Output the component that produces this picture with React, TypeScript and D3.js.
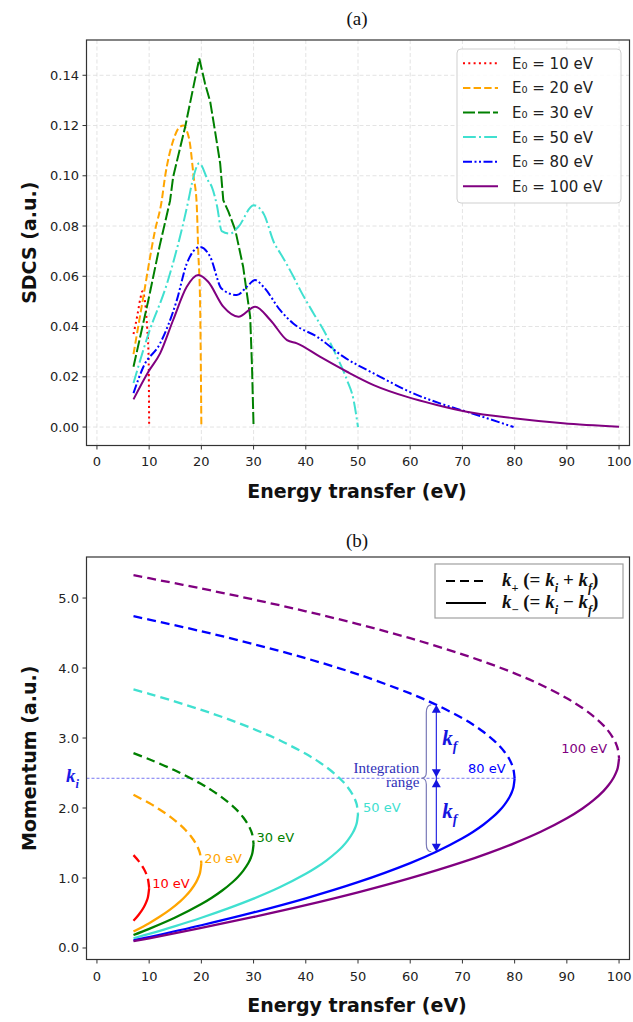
import React from "react";
import * as d3 from "d3";

// ---------- Panel (a) data: SDCS vs energy transfer ----------
const xTicks = [0, 10, 20, 30, 40, 50, 60, 70, 80, 90, 100];
const sdcsTicks = [0, 0.02, 0.04, 0.06, 0.08, 0.1, 0.12, 0.14];
const momTicks = [0, 1, 2, 3, 4, 5];

const e10W = [7, 7.7, 8.3, 8.7, 9.2, 9.6, 9.9, 10];
const e10S = [0.037, 0.044, 0.051, 0.054, 0.05, 0.04, 0.027, 0.0];

const e20W = [7, 8.9, 11.1, 12.4, 13.0, 14.6, 15.9, 16.6, 17.2, 17.8, 18.5, 19.1, 19.4, 19.75, 20];
const e20S = [0.029, 0.052, 0.078, 0.09, 0.099, 0.114, 0.1195, 0.12, 0.118, 0.113, 0.1, 0.089, 0.07, 0.05, 0.0];

const e30W = [7, 9.85, 12, 14.0, 14.6, 16.9, 19.6, 20.7, 21.7, 22.6, 23.6, 24.2, 25.2, 26.5, 28.0, 29.35, 29.7, 30];
const e30S = [0.024, 0.0505, 0.072, 0.09, 0.0996, 0.1195, 0.1467, 0.1367, 0.1294, 0.118, 0.1049, 0.0903, 0.0856, 0.0784, 0.0638, 0.0439, 0.024, 0.0];

const e50W = [7, 9.85, 13.4, 17.5, 18.2, 19.6, 21.3, 22.0, 23.0, 23.9, 25.5, 27.1, 30.0, 31.9, 34.0, 35.15, 37.65, 38.94, 41.49, 43.4, 45.65, 47.89, 49.16, 50];
const e50S = [0.0175, 0.037, 0.057, 0.09, 0.097, 0.105, 0.098, 0.0956, 0.088, 0.078, 0.077, 0.0797, 0.0883, 0.085, 0.073, 0.0691, 0.0598, 0.0545, 0.0452, 0.0386, 0.0293, 0.0187, 0.0107, 0.0];

const e80W = [7, 8.9, 12.1, 15.3, 17.2, 19.75, 21.7, 23.9, 26.8, 28.7, 30.3, 31.9, 35.1, 37.6, 42.1, 47.2, 53.6, 60.6, 65.7, 70.8, 74.7, 79.8];
const e80S = [0.0135, 0.024, 0.0333, 0.0505, 0.065, 0.0717, 0.0677, 0.055, 0.0525, 0.0558, 0.0585, 0.0558, 0.0465, 0.0412, 0.036, 0.028, 0.0207, 0.0134, 0.0094, 0.0061, 0.0035, 0.0];

const e100W = [7, 9.85, 12.1, 14.6, 17.2, 19.4, 21.3, 24.2, 27.1, 30.3, 33.2, 36.4, 38.3, 42.7, 47.9, 53.0, 59.4, 65.1, 70.8, 79.8, 89.3, 100];
const e100S = [0.011, 0.022, 0.0293, 0.0426, 0.0558, 0.0605, 0.0578, 0.0479, 0.0439, 0.0479, 0.0426, 0.0346, 0.0333, 0.028, 0.022, 0.0167, 0.012, 0.0088, 0.0061, 0.0035, 0.0015, 0.0001];

const legendLabelsA = ["E₀ = 10 eV", "E₀ = 20 eV", "E₀ = 30 eV", "E₀ = 50 eV", "E₀ = 80 eV", "E₀ = 100 eV"];

// ---------- Panel (b) data: momentum vs energy transfer ----------
const b10W = [7, 8, 9, 9.5, 9.75, 10];
const b10Plus = [1.327, 1.241, 1.128, 1.049, 0.993, 0.857];
const b10Minus = [0.388, 0.474, 0.586, 0.666, 0.722, 0.857];

const b20W = [7, 10, 12, 14, 16, 17, 18, 19, 19.5, 19.75, 20];
const b20Plus = [2.19, 2.07, 1.979, 1.877, 1.755, 1.682, 1.596, 1.484, 1.404, 1.348, 1.212];
const b20Minus = [0.235, 0.355, 0.446, 0.548, 0.67, 0.743, 0.829, 0.941, 1.021, 1.077, 1.212];

const b30W = [7, 10, 15, 20, 22, 24, 26, 27, 28, 29, 29.5, 29.75, 30];
const b30Plus = [2.785, 2.697, 2.535, 2.342, 2.252, 2.149, 2.027, 1.955, 1.868, 1.756, 1.677, 1.621, 1.485];
const b30Minus = [0.185, 0.273, 0.435, 0.628, 0.718, 0.821, 0.943, 1.015, 1.102, 1.214, 1.293, 1.349, 1.485];

const b50W = [7, 10, 15, 20, 25, 30, 35, 40, 42, 44, 46, 47, 48, 49, 49.5, 49.75, 50];
const b50Plus = [3.695, 3.632, 3.521, 3.402, 3.273, 3.129, 2.967, 2.774, 2.684, 2.581, 2.459, 2.387, 2.3, 2.188, 2.109, 2.053, 1.917];
const b50Minus = [0.139, 0.202, 0.313, 0.432, 0.562, 0.705, 0.867, 1.06, 1.15, 1.253, 1.375, 1.447, 1.534, 1.646, 1.725, 1.781, 1.917];

const b80W = [7, 10, 20, 30, 40, 50, 60, 65, 70, 72, 74, 76, 77, 78, 79, 79.5, 79.75, 80];
const b80Plus = [4.741, 4.693, 4.525, 4.342, 4.14, 3.91, 3.637, 3.475, 3.282, 3.192, 3.089, 2.967, 2.895, 2.808, 2.696, 2.617, 2.561, 2.425];
const b80Minus = [0.109, 0.157, 0.325, 0.508, 0.71, 0.94, 1.213, 1.375, 1.568, 1.658, 1.761, 1.883, 1.955, 2.042, 2.154, 2.233, 2.289, 2.425];

const b100W = [7, 10, 20, 30, 40, 50, 60, 70, 75, 80, 85, 90, 93, 95, 97, 98, 99, 99.5, 99.75, 100];
const b100Plus = [5.326, 5.283, 5.136, 4.979, 4.811, 4.628, 4.426, 4.196, 4.067, 3.924, 3.761, 3.568, 3.428, 3.317, 3.181, 3.095, 2.982, 2.903, 2.847, 2.711];
const b100Minus = [0.097, 0.139, 0.286, 0.443, 0.611, 0.794, 0.997, 1.226, 1.356, 1.499, 1.661, 1.854, 1.994, 2.105, 2.242, 2.328, 2.44, 2.519, 2.576, 2.711];

const curveLabelsB = ["10 eV", "20 eV", "30 eV", "50 eV", "80 eV", "100 eV"];
const arrowW = 65;

// ---------- styles ----------
const colors = ["#ff0000", "#ffa500", "#008000", "#40e0d0", "#0000ff", "#800080"];
const dashesA = ["2,3.3", "7.4,3.2", "12,3", "12.8,3.2,2,3.2", "9,2.5,2,2.5,2,2.5", ""];

const xS = d3.scaleLinear().domain([-2, 102]).range([86.5, 629.5]);
const yA = d3.scaleLinear().domain([-0.00735, 0.15404]).range([445.5, 40]);
const yB = d3.scaleLinear().domain([-0.1644, 5.5864]).range([959.5, 557]);

const seriesA = [
  { w: e10W, s: e10S },
  { w: e20W, s: e20S },
  { w: e30W, s: e30S },
  { w: e50W, s: e50S },
  { w: e80W, s: e80S },
  { w: e100W, s: e100S },
];
const seriesB = [
  { w: b10W, p: b10Plus, m: b10Minus },
  { w: b20W, p: b20Plus, m: b20Minus },
  { w: b30W, p: b30Plus, m: b30Minus },
  { w: b50W, p: b50Plus, m: b50Minus },
  { w: b80W, p: b80Plus, m: b80Minus },
  { w: b100W, p: b100Plus, m: b100Minus },
];
// label offsets (px) relative to the vertex of each curve
const labelOffB = [
  { dx: 3, dy: 0, anchor: "start" },
  { dx: 3, dy: 0, anchor: "start" },
  { dx: 3, dy: -2, anchor: "start" },
  { dx: 5, dy: -2, anchor: "start" },
  { dx: -9, dy: -5, anchor: "end" },
  { dx: -12, dy: -5, anchor: "end" },
];

const SANS = "DejaVu Sans, sans-serif";
const SERIF = "Liberation Serif, Times New Roman, serif";
const TXT = "#222";

type Part = { t: string; it?: boolean; sub?: boolean };
function Rich({ x, y, parts, size, fill, anchor = "start" }: { x: number; y: number; parts: Part[]; size: number; fill: string; anchor?: string }) {
  let cur = 0;
  return (
    <text x={x} y={y} fontFamily={SERIF} fontWeight="bold" fontSize={size} fill={fill} textAnchor={anchor as any} style={{ whiteSpace: "pre" }}>
      {parts.map((p, i) => {
        const target = p.sub ? size * 0.3 : 0;
        const dy = target - cur;
        cur = target;
        return (
          <tspan key={i} dy={dy} fontStyle={p.it ? "italic" : "normal"} fontSize={p.sub ? size * 0.65 : size}>
            {p.t}
          </tspan>
        );
      })}
    </text>
  );
}

export default function App() {
  const lineA = (w: number[], s: number[], i: number) =>
    d3
      .line<number>()
      .x((_, j) => xS(w[j]))
      .y((v) => yA(v))
      .curve(i === 2 ? d3.curveLinear : d3.curveMonotoneX)(s) as string;
  const lineB = (w: number[], k: number[]) =>
    d3
      .line<number>()
      .x((_, j) => xS(w[j]))
      .y((v) => yB(v))
      .curve(d3.curveCatmullRom.alpha(0.5))(k) as string;

  const aTop = 40, aBot = 445.5, bTop = 557, bBot = 959.5;
  const L = 86.5, R = 629.5;

  const ai = b80W.indexOf(arrowW);
  const ax = xS(arrowW);
  const yPlus = yB(b80Plus[ai]);
  const yMinus = yB(b80Minus[ai]);
  const kiVal = b80Plus[b80Plus.length - 1];
  const yKi = yB(kiVal);
  const arrowCol = "#1515e0";
  const tri = (x: number, y: number, up: boolean) => {
    const h = 8, hw = 4.5;
    return up ? `M${x},${y} L${x - hw},${y + h} L${x + hw},${y + h} Z` : `M${x},${y} L${x - hw},${y - h} L${x + hw},${y - h} Z`;
  };
  const bx = ax - 10; // brace
  const braceD = `M${bx + 5},${yPlus} Q${bx},${yPlus} ${bx},${yPlus + 8} L${bx},${yKi - 6} Q${bx},${yKi} ${bx - 5},${yKi} Q${bx},${yKi} ${bx},${yKi + 6} L${bx},${yMinus - 8} Q${bx},${yMinus} ${bx + 5},${yMinus}`;

  return (
    <svg width={633} height={1022} style={{ display: "block", position: "absolute", left: 0, top: 0, background: "#fff" }}>
      {/* ================= Panel (a) ================= */}
      <text x={357} y={25} fontFamily={SERIF} fontSize={19} textAnchor="middle" fill="#111">(a)</text>
      {xTicks.map((t) => (
        <line key={"gx" + t} x1={xS(t)} x2={xS(t)} y1={aTop} y2={aBot} stroke="#dcdcdc" strokeWidth={0.8} strokeDasharray="4,2.5" />
      ))}
      {sdcsTicks.map((t) => (
        <line key={"gy" + t} x1={L} x2={R} y1={yA(t)} y2={yA(t)} stroke="#dcdcdc" strokeWidth={0.8} strokeDasharray="4,2.5" />
      ))}
      {seriesA.map((s, i) => (
        <path key={"a" + i} d={lineA(s.w, s.s, i)} fill="none" stroke={colors[i]} strokeWidth={2} strokeDasharray={dashesA[i] || undefined} />
      ))}
      <rect x={L} y={aTop} width={R - L} height={aBot - aTop} fill="none" stroke="#333" strokeWidth={1.2} />
      {xTicks.map((t) => (
        <g key={"xa" + t}>
          <line x1={xS(t)} x2={xS(t)} y1={aBot} y2={aBot + 4} stroke="#333" />
          <text x={xS(t)} y={466} fontFamily={SANS} fontSize={13} textAnchor="middle" fill={TXT}>{t}</text>
        </g>
      ))}
      {sdcsTicks.map((t) => (
        <g key={"ya" + t}>
          <line x1={L - 4} x2={L} y1={yA(t)} y2={yA(t)} stroke="#333" />
          <text x={79} y={yA(t) + 4.5} fontFamily={SANS} fontSize={13} textAnchor="end" fill={TXT}>{d3.format(".2f")(t)}</text>
        </g>
      ))}
      <text x={357} y={498} fontFamily={SANS} fontWeight="bold" fontSize={19} textAnchor="middle" fill="#111">Energy transfer (eV)</text>
      <text transform={`translate(36,${(aTop + aBot) / 2}) rotate(-90)`} fontFamily={SANS} fontWeight="bold" fontSize={19} textAnchor="middle" fill="#111">SDCS (a.u.)</text>
      <rect x={457} y={49} width={164} height={154} rx={4} fill="#fff" fillOpacity={0.85} stroke="#cfcfcf" />
      {legendLabelsA.map((lab, i) => {
        const y = 63.3 + i * 24.6;
        return (
          <g key={"la" + i}>
            <line x1={463} x2={498} y1={y} y2={y} stroke={colors[i]} strokeWidth={2} strokeDasharray={dashesA[i] || undefined} />
            <text x={512} y={y + 5.5} fontFamily={SANS} fontSize={15} fill={TXT}>{lab}</text>
          </g>
        );
      })}

      {/* ================= Panel (b) ================= */}
      <text x={357} y={547} fontFamily={SERIF} fontSize={19} textAnchor="middle" fill="#111">(b)</text>
      <line x1={L} x2={xS(80)} y1={yKi} y2={yKi} stroke="#6868f0" strokeWidth={0.9} strokeDasharray="3,2" />
      {seriesB.map((s, i) => (
        <g key={"b" + i}>
          <path d={lineB(s.w, s.p)} fill="none" stroke={colors[i]} strokeWidth={2.3} strokeDasharray="9,5" />
          <path d={lineB(s.w, s.m)} fill="none" stroke={colors[i]} strokeWidth={2.3} />
        </g>
      ))}
      {seriesB.map((s, i) => {
        const n = s.w.length - 1;
        const o = labelOffB[i];
        return (
          <text key={"bl" + i} x={xS(s.w[n]) + o.dx} y={yB(s.p[n]) + o.dy} fontFamily={SANS} fontSize={13} fill={colors[i]} textAnchor={o.anchor as any}>
            {curveLabelsB[i]}
          </text>
        );
      })}
      <line x1={ax} x2={ax} y1={yPlus + 2} y2={yMinus - 2} stroke={arrowCol} strokeWidth={1.1} />
      <path d={tri(ax, yPlus, true)} fill={arrowCol} />
      <path d={tri(ax, yKi - 1, false)} fill={arrowCol} />
      <path d={tri(ax, yKi + 1, true)} fill={arrowCol} />
      <path d={tri(ax, yMinus, false)} fill={arrowCol} />
      <path d={braceD} fill="none" stroke="#7a7ab8" strokeWidth={1.2} />
      <text x={bx - 7} y={yKi - 5} fontFamily={SERIF} fontSize={15} textAnchor="end" fill="#3030b8">Integration</text>
      <text x={bx - 7} y={yKi + 9} fontFamily={SERIF} fontSize={15} textAnchor="end" fill="#3030b8">range</text>
      <Rich x={ax + 6} y={(yPlus + yKi) / 2 + 3} size={21} fill={arrowCol} parts={[{ t: "k", it: true }, { t: "f", it: true, sub: true }]} />
      <Rich x={ax + 6} y={(yMinus + yKi) / 2 + 3} size={21} fill={arrowCol} parts={[{ t: "k", it: true }, { t: "f", it: true, sub: true }]} />
      <Rich x={66} y={yKi + 4} size={19} fill="#1a1ae6" parts={[{ t: "k", it: true }, { t: "i", it: true, sub: true }]} />

      <rect x={L} y={bTop} width={R - L} height={bBot - bTop} fill="none" stroke="#333" strokeWidth={1.2} />
      {xTicks.map((t) => (
        <g key={"xb" + t}>
          <line x1={xS(t)} x2={xS(t)} y1={bBot} y2={bBot + 4} stroke="#333" />
          <text x={xS(t)} y={980.5} fontFamily={SANS} fontSize={13} textAnchor="middle" fill={TXT}>{t}</text>
        </g>
      ))}
      {momTicks.map((t) => (
        <g key={"yb" + t}>
          <line x1={L - 4} x2={L} y1={yB(t)} y2={yB(t)} stroke="#333" />
          <text x={79} y={yB(t) + 4.5} fontFamily={SANS} fontSize={13} textAnchor="end" fill={TXT}>{d3.format(".1f")(t)}</text>
        </g>
      ))}
      <text x={357} y={1012} fontFamily={SANS} fontWeight="bold" fontSize={19} textAnchor="middle" fill="#111">Energy transfer (eV)</text>
      <text transform={`translate(36,${(bTop + bBot) / 2}) rotate(-90)`} fontFamily={SANS} fontWeight="bold" fontSize={19} textAnchor="middle" fill="#111">Momentum (a.u.)</text>
      <rect x={435} y={564} width={188} height={54} fill="#fff" stroke="#a0a0a0" strokeWidth={1.2} />
      <line x1={446} x2={486} y1={581} y2={581} stroke="#000" strokeWidth={2.2} strokeDasharray="9,5" />
      <line x1={446} x2={486} y1={603} y2={603} stroke="#000" strokeWidth={2.2} />
      <Rich x={502} y={586} size={19} fill="#111" parts={[{ t: "k", it: true }, { t: "+", sub: true }, { t: " (= " }, { t: "k", it: true }, { t: "i", it: true, sub: true }, { t: " + " }, { t: "k", it: true }, { t: "f", it: true, sub: true }, { t: ")" }]} />
      <Rich x={502} y={608} size={19} fill="#111" parts={[{ t: "k", it: true }, { t: "−", sub: true }, { t: " (= " }, { t: "k", it: true }, { t: "i", it: true, sub: true }, { t: " − " }, { t: "k", it: true }, { t: "f", it: true, sub: true }, { t: ")" }]} />
    </svg>
  );
}
